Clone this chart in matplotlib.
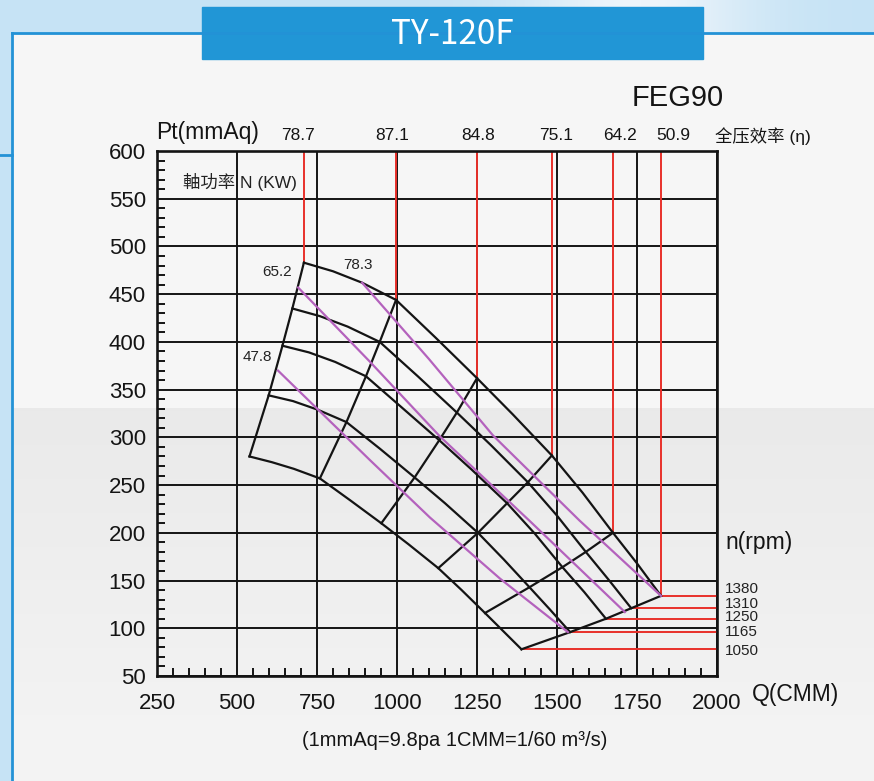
import numpy as np
import matplotlib.pyplot as plt
from matplotlib.patches import Rectangle
from matplotlib.ticker import MultipleLocator

# ---------------------------------------------
# FAN CURVES: static pressure vs flow, per speed
# ---------------------------------------------

rpm = [1380, 1310, 1250, 1165, 1050]

q_1380 = [709, 800, 891, 997, 1122, 1250, 1362, 1484, 1580, 1675, 1750, 1825]
pt_1380 = [483, 474, 462, 444, 404, 362, 324, 281, 242, 200, 168, 134]

q_1310 = [673, 759, 846, 946, 1065, 1187, 1293, 1409, 1500, 1590, 1661, 1732]
pt_1310 = [435, 427, 416, 400, 364, 326, 292, 253, 218, 180, 151, 121]

q_1250 = [642, 725, 807, 903, 1016, 1132, 1234, 1344, 1431, 1517, 1585, 1653]
pt_1250 = [396, 389, 379, 364, 331, 297, 266, 231, 199, 164, 138, 110]

q_1165 = [599, 675, 752, 842, 947, 1055, 1150, 1253, 1334, 1414, 1477, 1541]
pt_1165 = [344, 338, 329, 316, 288, 258, 231, 200, 172, 143, 120, 96]

q_1050 = [539, 609, 678, 759, 854, 951, 1036, 1129, 1202, 1275, 1332, 1389]
pt_1050 = [280, 274, 267, 257, 234, 210, 188, 163, 140, 116, 97, 78]

# efficiency points (index on every speed curve) and their values
eta_idx = [0, 3, 5, 7, 9, 11]
eta_labels = ["78.7", "87.1", "84.8", "75.1", "64.2", "50.9"]

# shaft power lines (kW)
power_labels = ["78.3", "65.2", "47.8"]
power_q = [
    [891, 1100, 1300, 1570, 1825],
    [691, 916, 1134, 1416, 1712],
    [628, 916, 1103, 1322, 1534],
]
power_pt = [
    [462, 382, 302, 213, 134],
    [457, 379, 301, 212, 117],
    [370, 276, 216, 152, 96],
]

curves_q = [q_1380, q_1310, q_1250, q_1165, q_1050]
curves_pt = [pt_1380, pt_1310, pt_1250, pt_1165, pt_1050]

x_ticks = list(range(250, 2001, 250))
y_ticks = list(range(50, 601, 50))

# -------------------------
# STYLE
# -------------------------

LATIN = ["Liberation Sans", "DejaVu Sans"]
plt.rcParams["font.family"] = LATIN
INK = "#141414"
RED = "#e8302a"
PURPLE = "#b462bd"
BLUE = "#2392d6"

W, H = 874, 781


def px(x, y):
    return x / W, 1 - y / H


fig = plt.figure(figsize=(W / 100, H / 100), dpi=100)
fig.patch.set_facecolor("#c6e3f5")

# -------------------------
# PAGE BACKGROUND
# -------------------------

bg = fig.add_axes([0, 0, 1, 1], zorder=-5)
bg.set_xlim(0, W)
bg.set_ylim(H, 0)
bg.axis("off")

# sky strip along the top, brighter round the middle
cols = np.arange(W)
glow = np.exp(-((cols - 640) / 110.0) ** 2)
sky = np.zeros((1, W, 3))
sky[0, :, 0] = 198 + 40 * glow
sky[0, :, 1] = 227 + 18 * glow
sky[0, :, 2] = 245 + 6 * glow
bg.imshow(np.clip(sky, 0, 255) / 255, extent=(0, W, 33, 0), aspect="auto")

# light panel with a grey band across the lower half
rows = np.arange(33, H)
shade = np.where(rows < 408, 246, 233 + 11 * (rows - 408) / (H - 408))
bg.imshow(np.repeat(shade[:, None], 2, axis=1), cmap="gray", vmin=0, vmax=255,
          extent=(13, W, H, 33), aspect="auto")

bg.plot([12, W], [33, 33], color=BLUE, lw=2)
bg.plot([12, 12], [33, H], color=BLUE, lw=2)
bg.plot([0, 12], [155, 155], color=BLUE, lw=2)

bg.add_patch(Rectangle((202, 7), 501, 52, color="#2196d6"))
bg.text(452, 34, "TY-120F", color="white", fontsize=24, ha="center", va="center",
        family=["Noto Sans CJK SC", "DejaVu Sans"])

# -------------------------
# CHART
# -------------------------

ax = fig.add_axes([157 / W, 1 - 676 / H, 560 / W, 525 / H])
ax.set_facecolor("none")
ax.set_xlim(x_ticks[0], x_ticks[-1])
ax.set_ylim(y_ticks[0], y_ticks[-1])
x_right = x_ticks[-1]
y_top = y_ticks[-1]

ax.set_xticks(x_ticks)
ax.set_yticks(y_ticks)
ax.xaxis.set_minor_locator(MultipleLocator(50))
ax.yaxis.set_minor_locator(MultipleLocator(10))
ax.tick_params(which="major", length=0, labelsize=16, labelcolor=INK)
ax.tick_params(axis="x", which="major", pad=12)
ax.tick_params(axis="y", which="major", pad=8)
ax.tick_params(which="minor", direction="in", length=6, width=1.4, color=INK)
ax.grid(True, which="major", color=INK, lw=1.4)
ax.set_axisbelow(True)
for s in ax.spines.values():
    s.set_color(INK)
    s.set_linewidth(1.9)

# efficiency markers: red verticals down to the top speed curve
for i in eta_idx:
    ax.vlines(q_1380[i], pt_1380[i], y_top, color=RED, lw=1.4, zorder=2)

# speed markers: red horizontals from each curve's end to the frame
for q, pt in zip(curves_q, curves_pt):
    ax.hlines(pt[-1], q[-1], x_right, color=RED, lw=1.4, zorder=2)

# speed curves
for q, pt in zip(curves_q, curves_pt):
    ax.plot(q, pt, color=INK, lw=1.6, zorder=3, solid_joinstyle="round")

# constant-efficiency lines across the speeds
for i in eta_idx:
    ax.plot([q[i] for q in curves_q], [pt[i] for pt in curves_pt],
            color=INK, lw=1.6, zorder=3)

# shaft power lines
for q, pt in zip(power_q, power_pt):
    ax.plot(q, pt, color=PURPLE, lw=1.6, zorder=4, solid_joinstyle="round")

label_offsets = [(-3, 8), (-15, 6), (-15, 5)]
for lab, q, pt, (dx, dy) in zip(power_labels, power_q, power_pt, label_offsets):
    ax.annotate(lab, xy=(q[0], pt[0]), xytext=(dx, dy), textcoords="offset points",
                ha="center", va="bottom", fontsize=11, color="#222222")

# efficiency values above the frame
eta_dx = [-4.3, -2.9, 0.7, 2.9, 5.0, 8.6]
for i, lab, dx in zip(eta_idx, eta_labels, eta_dx):
    ax.annotate(lab, xy=(q_1380[i], y_top), xytext=(dx, 11), textcoords="offset points",
                ha="center", va="center", fontsize=12.5, color=INK, annotation_clip=False)

# rpm labels beside the frame
rpm_dy = [5, 3, 1, 0, -1.5]
for n, pt, dy in zip(rpm, curves_pt, rpm_dy):
    ax.annotate(str(n), xy=(x_right, pt[-1]), xytext=(6, dy), textcoords="offset points",
                ha="left", va="center", fontsize=11, color="#222222", annotation_clip=False)

ax.text(331, 568, "軸功率 N (KW)", fontsize=12.5, ha="left", va="center", color="#222222",
        family=["Liberation Sans", "Noto Sans CJK TC"])

# -------------------------
# TITLES AND UNITS
# -------------------------

fig.text(*px(632, 98), "FEG90", fontsize=21, ha="left", va="center", color=INK)
fig.text(*px(156, 132), "Pt(mmAq)", fontsize=16.5, ha="left", va="center", color=INK)
fig.text(*px(715, 136), "全压效率 (η)", fontsize=12.5, ha="left", va="center", color=INK,
         family=["Liberation Sans", "Noto Sans CJK SC"])
fig.text(*px(725, 543), "n(rpm)", fontsize=16.5, ha="left", va="center", color=INK)
fig.text(*px(752, 695), "Q(CMM)", fontsize=16.5, ha="left", va="center", color=INK)
fig.text(*px(455, 740), "(1mmAq=9.8pa 1CMM=1/60 m³/s)", fontsize=14.5,
         ha="center", va="center", color=INK)

fig.savefig("out.png", dpi=100, facecolor=fig.get_facecolor())
